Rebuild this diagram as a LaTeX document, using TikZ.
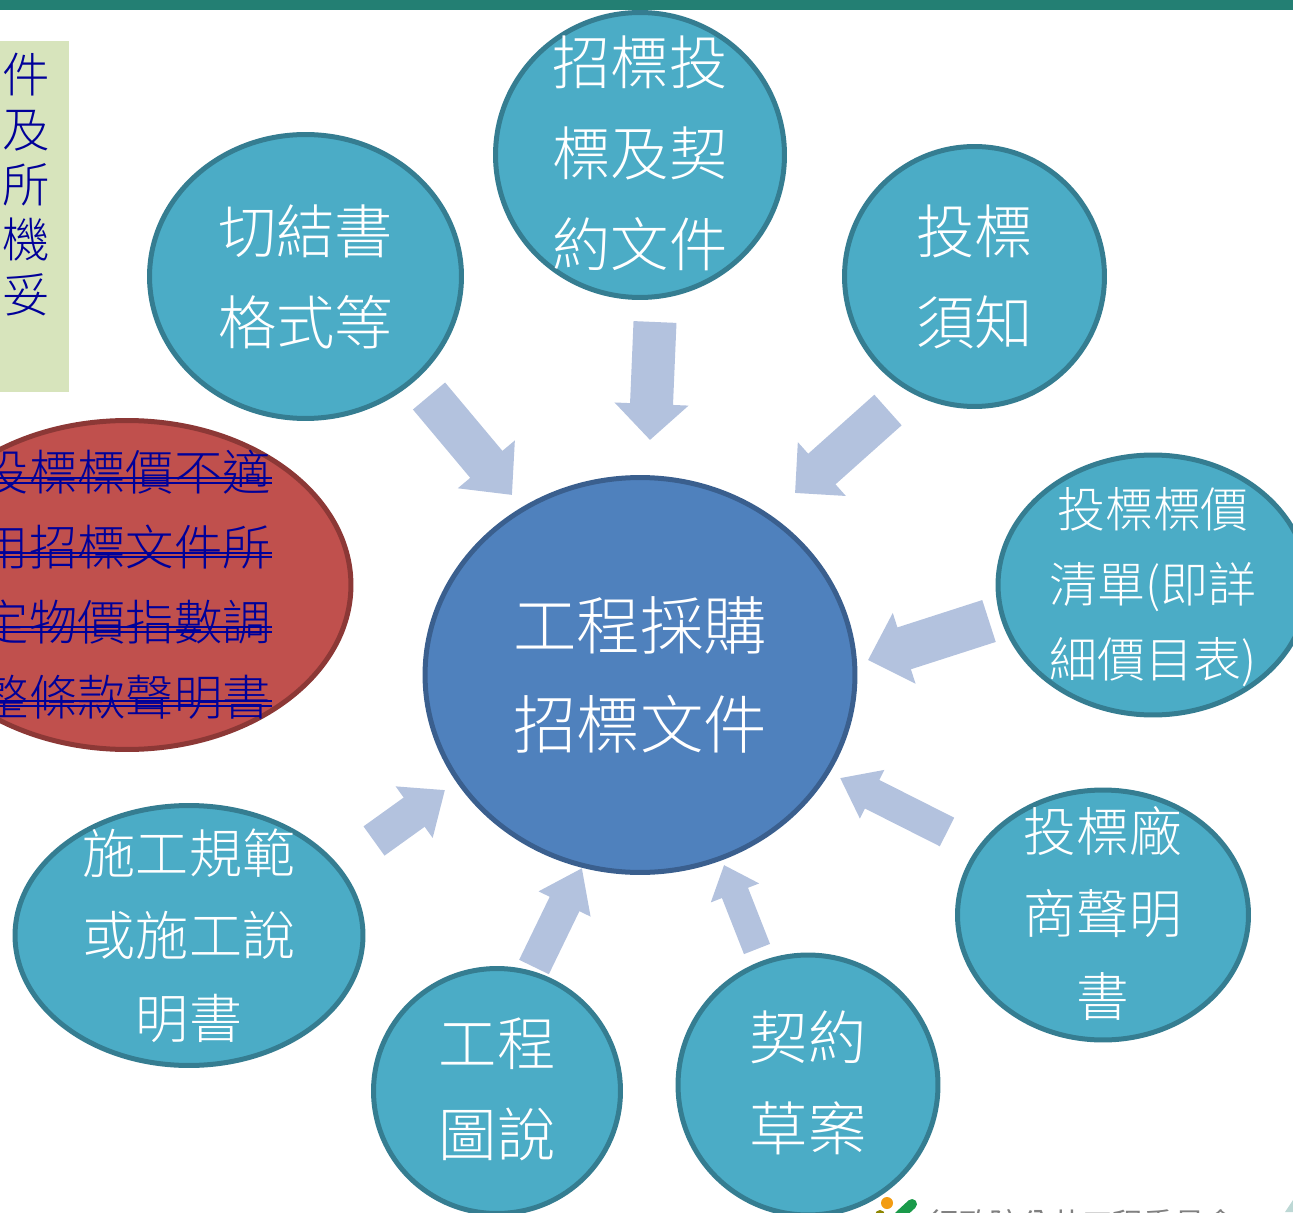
\documentclass[tikz,border=0pt]{standalone}
\usepackage{fontspec}
\usepackage{xcolor}
\usetikzlibrary{positioning, arrows.meta, shapes.geometric}
\newfontfamily\cjk[UprightFont=* Light]{Noto Sans CJK TC}
\newfontfamily\cjkreg{Noto Sans CJK TC}
\definecolor{barteal}{HTML}{237F73}
\definecolor{notegreen}{HTML}{D7E4BC}
\definecolor{noteblue}{HTML}{000099}
\definecolor{bubblefill}{HTML}{4BACC6}
\definecolor{bubbleline}{HTML}{357D91}
\definecolor{mainfill}{HTML}{4F81BD}
\definecolor{mainline}{HTML}{3A5F8E}
\definecolor{redfill}{HTML}{C0504D}
\definecolor{redline}{HTML}{8C3836}
\definecolor{arrowblue}{HTML}{B3C2DE}
\definecolor{logogreen}{HTML}{1A9A4A}
\definecolor{logoorange}{HTML}{F39C12}
\tikzset{
  bubble/.style={ellipse, draw=bubbleline, fill=bubblefill, line width=0.1cm, inner sep=0pt},
  bubbletext/.style={text=white, align=center, font=\cjk\fontsize{33.2}{51.8}\selectfont},
  fatarrow/.style n args={3}{draw=arrowblue, line width=#1, -{Triangle[length=#3, width=#2, fill=arrowblue]}},
  redtext/.style={text=noteblue, anchor=east, inner sep=0pt, font=\cjk\fontsize{27.5}{30}\selectfont},
  strike/.style={draw=noteblue, line width=0.055cm}
}

\begin{document}
\begin{tikzpicture}[x=0.02cm, y=-0.02cm]
  \useasboundingbox (0,0) rectangle (1293,1212);
  \clip (0,0) rectangle (1293,1212);

  \fill[barteal] (0,0) rectangle (1293,10);
  \fill[notegreen] (0,41) rectangle (69,392);
  \node (sidenote) [anchor=north west, inner sep=0pt, text=noteblue, align=left, font=\cjk\fontsize{27}{31.3}\selectfont]
      at (2,53) {件\\及\\所\\機\\妥};

  % outer bubbles
  \node (topdoc) [bubble, minimum width=5.78cm, minimum height=5.7cm,
      label={[bubbletext, yshift=1pt]center:招標投\\標及契\\約文件}] at (640,155) {};
  \node (oath) [bubble, minimum width=6.24cm, minimum height=5.68cm,
      label={[bubbletext]center:切結書\\格式等}] at (305.5,276.5) {};
  \node (notice) [bubble, minimum width=5.2cm, minimum height=5.2cm,
      label={[bubbletext]center:投標\\須知}] at (974.5,276.5) {};
  \node (pricelist) [bubble, minimum width=6.2cm, minimum height=5.2cm,
      label={[bubbletext, yshift=-1pt, font=\cjk\fontsize{27.3}{42.7}\selectfont]center:投標標價\\清單(即詳\\細價目表)}] at (1153,585) {};
  \node (vendor) [bubble, minimum width=5.82cm, minimum height=5cm,
      label={[bubbletext, yshift=1pt, font=\cjk\fontsize{30}{47}\selectfont]center:投標廠\\商聲明\\書}] at (1103,915) {};
  \node (contract) [bubble, minimum width=5.2cm, minimum height=5.2cm,
      label={[bubbletext, yshift=1pt]center:契約\\草案}] at (808,1085) {};
  \node (drawing) [bubble, minimum width=4.94cm, minimum height=4.9cm,
      label={[bubbletext, yshift=1pt]center:工程\\圖說}] at (497,1091) {};
  \node (spec) [bubble, minimum width=6.96cm, minimum height=5.2cm,
      label={[bubbletext, font=\cjk\fontsize{30.2}{47}\selectfont]center:施工規範\\或施工說\\明書}] at (189,935.5) {};

  % red bubble, struck through
  \node (redbubble) [ellipse, draw=redline, fill=redfill, line width=0.1cm, inner sep=0pt,
      minimum width=8.96cm, minimum height=6.58cm] at (127,585) {};
  \node (redA) [redtext] at (271,472) {投標標價不適};
  \node (redB) [redtext] at (271,547) {用招標文件所};
  \node (redC) [redtext] at (271,622) {定物價指數調};
  \node (redD) [redtext] at (271,697) {整條款聲明書};
  \draw[strike] (0,478) -- (272,478);
  \draw[strike] (0,483) -- (272,483);
  \draw[strike] (0,553) -- (272,553);
  \draw[strike] (0,557) -- (272,557);
  \draw[strike] (0,627) -- (272,627);
  \draw[strike] (0,632) -- (272,632);
  \draw[strike] (0,701) -- (272,701);
  \draw[strike] (0,706) -- (272,706);

  % centre
  \node (mainbubble) [ellipse, draw=mainline, fill=mainfill, line width=0.1cm, inner sep=0pt,
      minimum width=8.6cm, minimum height=7.9cm,
      label={[bubbletext, font=\cjk\fontsize{36.1}{56.5}\selectfont]center:工程採購\\招標文件}] at (640,675) {};

  % arrows towards the centre
  \coordinate (oathtail) at (429,396);
  \coordinate (oathtip) at (512,495);
  \coordinate (toptail) at (655,322);
  \coordinate (toptip) at (650,440);
  \coordinate (noticetail) at (888,410);
  \coordinate (noticetip) at (795,493);
  \coordinate (pricetail) at (989,621);
  \coordinate (pricetip) at (868,660);
  \coordinate (vendortail) at (947,832);
  \coordinate (vendortip) at (840,778);
  \coordinate (contracttail) at (757,949);
  \coordinate (contracttip) at (724,865);
  \coordinate (drawingtail) at (534,967);
  \coordinate (drawingtip) at (582,868);
  \coordinate (spectail) at (374,841);
  \coordinate (spectip) at (445,790);

  \draw[fatarrow={0.84cm}{1.44cm}{0.8cm}] (oathtail) -- (oathtip);
  \draw[fatarrow={0.86cm}{1.44cm}{0.72cm}] (toptail) -- (toptip);
  \draw[fatarrow={0.82cm}{1.4cm}{0.72cm}] (noticetail) -- (noticetip);
  \draw[fatarrow={0.88cm}{1.44cm}{0.76cm}] (pricetail) -- (pricetip);
  \draw[fatarrow={0.64cm}{1.04cm}{0.72cm}] (vendortail) -- (vendortip);
  \draw[fatarrow={0.56cm}{1cm}{0.6cm}] (contracttail) -- (contracttip);
  \draw[fatarrow={0.66cm}{1.1cm}{0.8cm}] (drawingtail) -- (drawingtip);
  \draw[fatarrow={0.72cm}{1.22cm}{0.76cm}] (spectail) -- (spectip);

  % logo at the bottom edge
  \fill[logoorange] (887,1203) circle (6);
  \fill[olive] (880,1215) circle (5);
  \draw[logogreen, line width=0.2cm, line cap=round] (899,1216) -- (912,1204);
  \node (footer) [anchor=north west, inner sep=0pt, text=gray, font=\cjkreg\fontsize{17.5}{20}\selectfont]
      at (928,1209) {行政院公共工程委員會};
  \fill[barteal!30] (1285,1212) -- (1293,1200) -- (1293,1212) -- cycle;
\end{tikzpicture}
\end{document}
